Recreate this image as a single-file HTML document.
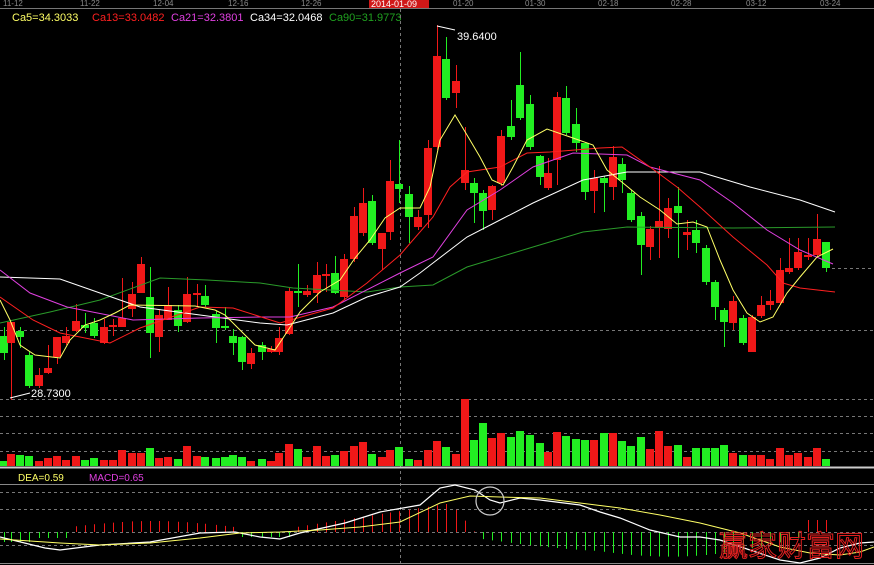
<!DOCTYPE html>
<html><head><meta charset="utf-8"><style>
html,body{margin:0;padding:0;background:#000;width:874px;height:565px;overflow:hidden}
svg{display:block}
text{font-family:"Liberation Sans",sans-serif}
</style></head><body>
<svg id="s" width="874" height="565" viewBox="0 0 874 565" xmlns="http://www.w3.org/2000/svg">
<rect width="874" height="565" fill="#000"/>
<g font-size="8" fill="#8a8a8a">
<text x="3" y="6">11-12</text><text x="80" y="6">11-22</text><text x="153" y="6">12-04</text><text x="228" y="6">12-16</text><text x="301" y="6">12-26</text>
<text x="453" y="6">01-20</text><text x="525" y="6">01-30</text><text x="598" y="6">02-18</text><text x="671" y="6">02-28</text><text x="746" y="6">03-12</text><text x="820" y="6">03-24</text>
</g>
<rect x="369" y="0" width="60" height="8" fill="#d01818"/>
<text x="371" y="7" font-size="9" fill="#fff">2014-01-09</text>
<line x1="0" y1="8.5" x2="874" y2="8.5" stroke="#777" stroke-width="1"/>
<g font-size="11">
<text x="12" y="21" fill="#ffff66">Ca5=34.3033</text>
<text x="92" y="21" fill="#ff2020">Ca13=33.0482</text>
<text x="171" y="21" fill="#e040e0">Ca21=32.3801</text>
<text x="250" y="21" fill="#fff">Ca34=32.0468</text>
<text x="329" y="21" fill="#20a020">Ca90=31.9773</text>
</g>
<g stroke="#777" stroke-dasharray="3,3" stroke-width="1">
<line x1="0" y1="330.5" x2="874" y2="330.5"/>
<line x1="0" y1="399.5" x2="874" y2="399.5"/>
<line x1="0" y1="416.5" x2="874" y2="416.5"/>
<line x1="0" y1="433.5" x2="874" y2="433.5"/>
<line x1="0" y1="451.5" x2="874" y2="451.5"/>
<line x1="0" y1="492.5" x2="874" y2="492.5"/>
<line x1="0" y1="509.5" x2="874" y2="509.5"/>
<line x1="0" y1="532.5" x2="874" y2="532.5"/>
<line x1="0" y1="545.5" x2="874" y2="545.5"/>
<line x1="832" y1="268.5" x2="874" y2="268.5"/>
<line x1="400.5" y1="9" x2="400.5" y2="565"/>
</g>
<line x1="0" y1="467.5" x2="874" y2="467.5" stroke="#ccc" stroke-width="2"/>
<line x1="0" y1="484.5" x2="874" y2="484.5" stroke="#888" stroke-width="1"/>
<line x1="0" y1="563.5" x2="874" y2="563.5" stroke="#888" stroke-width="1"/>
<g id="g"></g>
<text x="18" y="481" font-size="10" fill="#ffff66">DEA=0.59</text>
<text x="89" y="481" font-size="10" fill="#e040e0">MACD=0.65</text>
<polyline points="10,398 30,393" stroke="#fff" fill="none"/>
<text x="31" y="397" font-size="11" fill="#fff">28.7300</text>
<polyline points="437,26 455,30" stroke="#fff" fill="none"/>
<text x="457" y="40" font-size="11" fill="#fff">39.6400</text>
<circle cx="490" cy="501" r="14" stroke="#ccc" fill="none" stroke-width="1.2"/>
<text x="719" y="556" font-size="29" fill="none" stroke="#e02020" stroke-width="1" font-family="'Noto Serif CJK SC','Noto Sans CJK SC',serif">赢家财富网</text>
</svg>
<script>
var R="#f01818",G="#22ee22";
var C=[
[0,336,353,327,360,G],[7,322,343,322,400,R],[16,331,337,327,348,G],[25,355,386,352,388,G],[35,375,386,368,388,R],
[44,368,373,345,374,R],[53,337,357,337,364,R],[62,336,343,327,345,R],[72,321,331,304,332,R],[81,325,328,313,333,G],
[90,323,336,318,338,G],[100,327,343,319,344,R],[109,325,327,319,336,R],[118,318,327,278,327,R],[128,294,309,282,317,R],
[137,264,293,257,293,R],[146,297,333,267,358,G],[155,315,337,310,352,R],[164,305,320,287,320,R],[174,310,326,305,332,G],
[183,294,322,277,323,R],[193,293,295,284,307,R],[201,296,305,285,307,G],[212,314,328,311,343,G],[221,326,328,307,330,G],
[229,336,343,329,355,G],[238,337,362,336,370,G],[247,353,364,348,369,R],[258,345,352,342,360,G],[267,349,352,346,353,R],
[275,338,352,327,355,R],[285,291,334,288,335,R],[294,291,293,264,307,G],[303,291,295,285,297,R],[313,275,293,262,303,R],
[322,274,276,264,292,R],[331,273,293,256,294,G],[340,259,297,254,300,R],[350,216,259,207,262,R],[359,203,233,188,236,R],
[368,201,243,195,245,G],[378,233,249,233,270,R],[386,181,232,160,240,R],[395,184,189,140,203,G],[405,194,217,186,243,G],
[414,217,227,210,230,R],[424,148,215,140,228,R],[433,56,147,25,150,R],[442,59,98,37,100,G],[452,81,93,65,108,R],
[461,170,183,127,190,R],[470,183,193,178,223,G],[479,193,211,190,230,G],[488,186,210,185,220,R],[497,136,183,130,186,R],
[507,126,137,100,140,G],[516,85,118,52,120,G],[526,104,147,95,150,G],[536,156,177,155,185,G],[544,173,188,158,190,R],
[553,97,160,92,185,R],[562,98,133,86,135,G],[572,124,143,108,152,G],[581,143,192,143,200,G],[590,178,191,170,213,R],
[600,178,183,176,212,G],[609,157,187,146,200,R],[618,164,180,158,193,G],[627,193,220,190,222,G],[637,216,245,212,275,G],
[646,229,247,226,260,R],[655,221,228,166,258,R],[664,208,229,198,238,R],[674,206,213,187,258,G],[683,232,235,220,250,R],
[692,230,243,220,253,G],[702,248,282,245,285,G],[711,282,307,280,320,G],[720,310,322,308,347,G],[729,301,323,296,330,R],
[739,318,343,315,345,G],[748,317,352,315,352,R],[757,305,316,296,318,R],[766,301,305,290,310,R],[776,270,303,258,305,R],
[785,268,272,238,274,R],[794,252,268,238,270,R],[804,255,257,238,260,R],[813,239,255,214,257,R],[822,242,268,242,272,G]];
var V=[[0,461,G],[7,454,R],[16,455,G],[25,456,G],[35,461,R],[44,458,R],[53,456,R],[62,460,R],[72,456,R],[81,460,G],[90,458,G],
[100,460,R],[109,460,R],[118,450,R],[128,453,R],[137,453,R],[146,448,G],[155,458,R],[164,457,R],[174,459,G],[183,446,R],
[193,456,R],[201,457,G],[212,458,G],[221,457,G],[229,455,G],[238,457,G],[247,461,R],[258,459,G],[267,461,R],[275,453,R],
[285,444,R],[294,449,G],[303,457,R],[313,446,R],[322,456,R],[331,455,G],[340,451,R],[350,446,R],[359,442,R],[368,454,G],
[378,457,R],[386,450,R],[395,447,G],[405,459,G],[414,460,R],[424,450,R],[433,441,R],[442,447,G],[452,454,R],[461,399,R],
[470,440,G],[479,423,G],[488,438,R],[497,433,R],[507,437,G],[516,431,G],[526,435,G],[536,443,G],[544,452,R],[553,432,R],
[562,436,G],[572,439,G],[581,440,G],[590,440,R],[600,433,G],[609,433,R],[618,441,G],[627,446,G],[637,437,G],[646,449,R],
[655,431,R],[664,446,R],[674,445,G],[683,457,R],[692,448,G],[702,448,G],[711,448,G],[720,445,G],[729,453,R],[739,455,G],
[748,455,R],[757,455,R],[766,459,R],[776,448,R],[785,455,R],[794,453,R],[804,457,R],[813,448,R],[822,459,G]];
var h="";
V.forEach(function(v){h+='<rect x="'+v[0]+'" y="'+v[1]+'" width="8" height="'+(466-v[1])+'" fill="'+v[2]+'"/>';});
C.forEach(function(c){var cx=c[0]+4;h+='<line x1="'+(cx+.5)+'" y1="'+c[3]+'" x2="'+(cx+.5)+'" y2="'+c[4]+'" stroke="'+c[5]+'"/>';
h+='<rect x="'+c[0]+'" y="'+c[1]+'" width="8" height="'+Math.max(2,c[2]-c[1])+'" fill="'+c[5]+'"/>';});
function pl(p,col,w){h+='<polyline points="'+p+'" fill="none" stroke="'+col+'" stroke-width="'+(w||1)+'"/>';}
pl("0,323 50,312 100,300 160,278 207,280 260,283 293,288 367,292 400,287 433,285 467,267 533,247 583,232 627,227 733,228 835,227","#2a9a2a");
pl("0,277 60,279 140,307 200,315 260,323 287,325 333,313 367,297 400,287 420,273 433,263 467,237 500,220 533,203 583,180 627,172 700,172 750,187 800,200 835,212","#fff");
pl("0,270 30,293 67,307 133,320 200,318 260,317 290,317 333,307 400,273 433,257 467,210 500,190 533,167 573,153 627,155 650,167 700,180 733,203 767,230 800,250 833,264","#e040e0");
pl("0,297 33,320 60,333 110,343 140,328 200,307 233,308 280,323 333,308 367,283 400,255 433,217 450,187 467,172 500,167 527,153 550,152 600,148 622,147 650,167 677,187 700,207 733,237 767,265 783,283 800,288 835,292","#ff2020");
pl("0,300 10,320 20,345 35,355 60,358 70,340 85,325 100,320 115,313 130,305 195,306 215,310 225,315 240,330 255,345 275,350 285,335 300,312 320,292 340,280 355,258 370,240 385,218 400,208 420,208 430,187 440,140 455,115 467,135 480,157 492,180 503,185 513,167 527,140 547,129 573,138 593,145 607,170 623,183 640,197 660,210 677,224 693,222 707,227 720,260 733,290 747,313 760,322 773,317 787,293 800,277 817,257 833,249","#ffff66");
var Z=532;
C.forEach(function(c){var x=c[0]+4.5,v;
 if(x<70) v=(x<35?10:6);
 else if(x<235) v=-(5+6*Math.sin((x-70)/165*Math.PI));
 else if(x<290) v=5;
 else if(x<475) v=-Math.min(28,(x-290)/6.5+4) ;
 else if(x<800) v=6+14*Math.sin((x-475)/325*Math.PI)+ (x>600?6:0)*Math.sin((x-600)/200*Math.PI);
 else v=-12;
 if(x>455&&x<475) v=-(475-x)*1.2;
 var col=v<0?R:G;h+='<line x1="'+x+'" y1="'+Z+'" x2="'+x+'" y2="'+(Z+v)+'" stroke="'+col+'"/>';});
pl("0,537 45,548 60,550 100,545 150,542 200,533 235,532 260,537 280,539 300,533 345,523 380,512 420,505 440,488 455,485 475,490 490,500 500,503 520,498 540,500 580,505 600,512 620,518 650,530 680,537 700,537 720,540 750,550 780,560 800,563 820,558 840,548 860,543 874,542","#fff",1.2);
pl("0,539 60,543 100,545 150,543 200,538 240,533 280,532 320,530 360,527 400,522 440,503 470,496 500,497 540,498 580,503 620,508 660,515 700,523 740,533 780,547 810,553 840,555 860,552 874,547","#ffff66");
document.getElementById("g").innerHTML=h;
</script>
</body></html>
